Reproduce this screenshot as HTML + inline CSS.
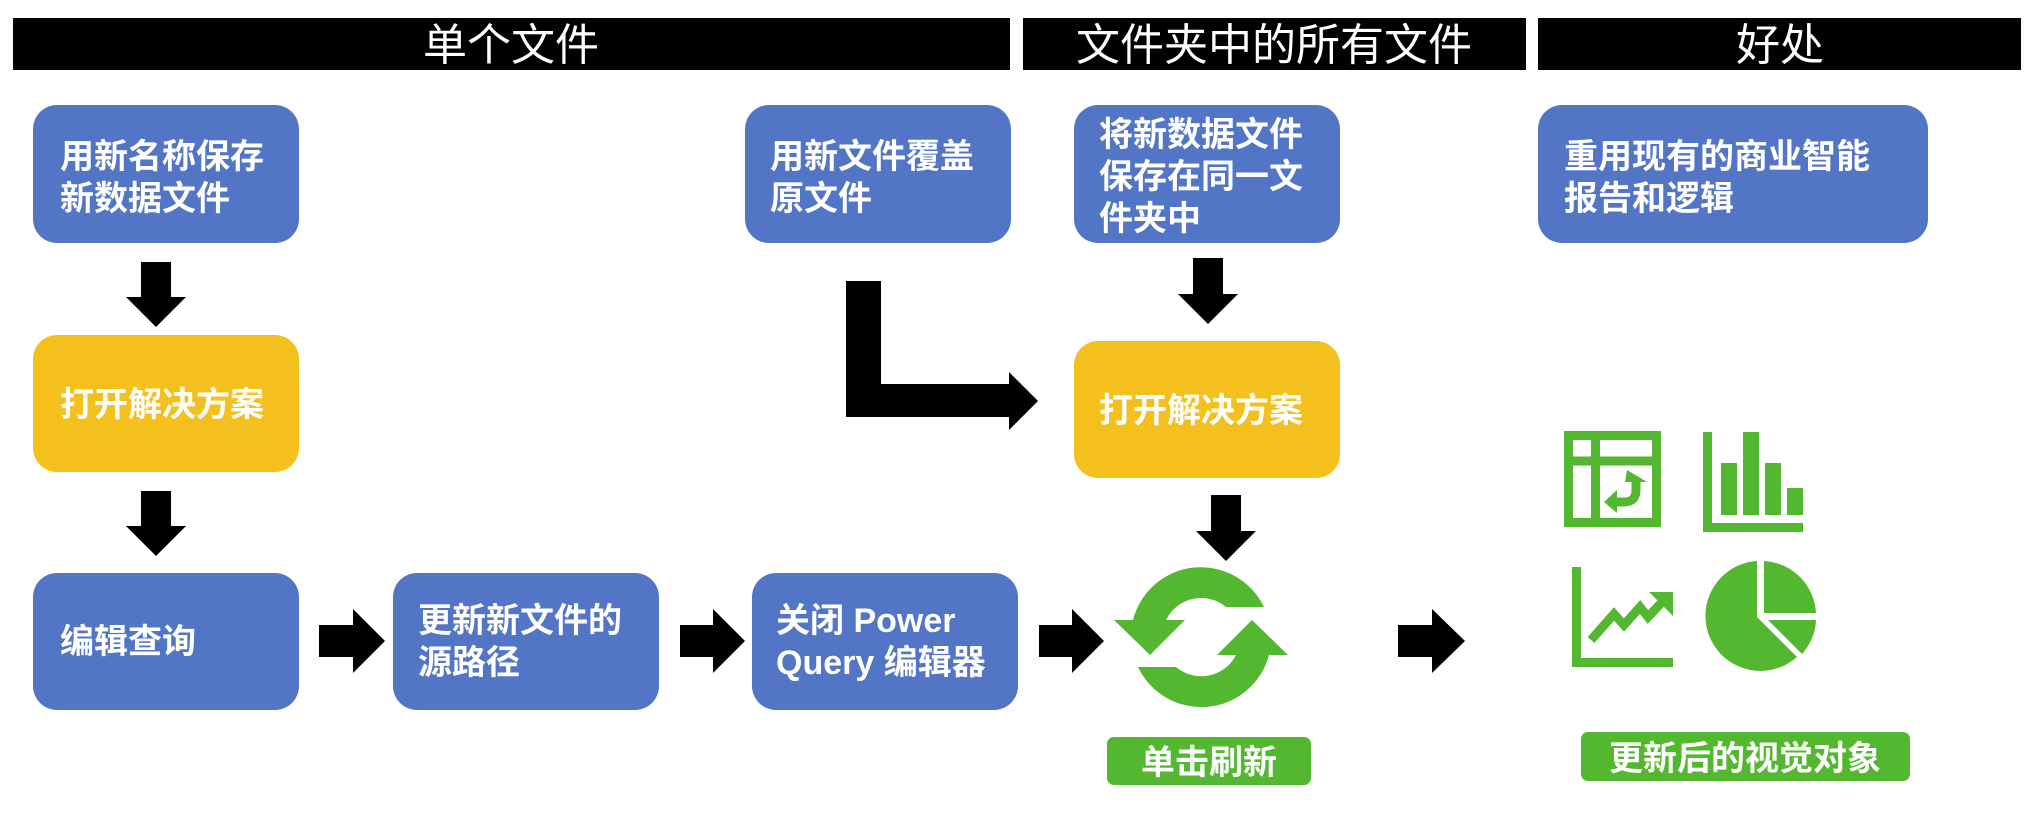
<!DOCTYPE html>
<html><head><meta charset="utf-8"><style>
html,body{margin:0;padding:0;background:#fff;}
svg{display:block}
.t{font-family:"Liberation Sans","Noto Sans CJK SC",sans-serif;font-weight:bold;font-size:34px;fill:#fff}
.h{font-family:"Liberation Sans","Noto Sans CJK SC",sans-serif;font-size:44px;fill:#fff}
</style></head><body>
<svg width="2031" height="814" viewBox="0 0 2031 814" xmlns="http://www.w3.org/2000/svg">
<rect x="13" y="18" width="997" height="52" fill="#000"/>
<rect x="1023" y="18" width="503" height="52" fill="#000"/>
<rect x="1538" y="18" width="483" height="52" fill="#000"/>
<text class="h" x="511" y="60" text-anchor="middle">单个文件</text>
<text class="h" x="1274" y="60" text-anchor="middle">文件夹中的所有文件</text>
<text class="h" x="1780" y="60" text-anchor="middle">好处</text>

<g fill="#5275c5">
<rect x="33" y="105" width="266" height="138" rx="24"/>
<rect x="33" y="573" width="266" height="137" rx="24"/>
<rect x="393" y="573" width="266" height="137" rx="24"/>
<rect x="752" y="573" width="266" height="137" rx="24"/>
<rect x="745" y="105" width="266" height="138" rx="24"/>
<rect x="1074" y="105" width="266" height="138" rx="24"/>
<rect x="1538" y="105" width="390" height="138" rx="24"/>
</g>
<g fill="#f4c01e">
<rect x="33" y="335" width="266" height="137" rx="24"/>
<rect x="1074" y="341" width="266" height="137" rx="24"/>
</g>
<g fill="#53b72f">
<rect x="1107" y="737" width="204" height="48" rx="7"/>
<rect x="1581" y="732" width="329" height="49" rx="7"/>
</g>

<text class="t" x="60" y="168">用新名称保存</text>
<text class="t" x="60" y="210">新数据文件</text>
<text class="t" x="60" y="416">打开解决方案</text>
<text class="t" x="60" y="653">编辑查询</text>
<text class="t" x="418" y="632">更新新文件的</text>
<text class="t" x="418" y="674">源路径</text>
<text class="t" x="776" y="632">关闭 Power</text>
<text class="t" x="776" y="674">Query 编辑器</text>
<text class="t" x="770" y="168">用新文件覆盖</text>
<text class="t" x="770" y="210">原文件</text>
<text class="t" x="1099" y="146">将新数据文件</text>
<text class="t" x="1099" y="188">保存在同一文</text>
<text class="t" x="1099" y="230">件夹中</text>
<text class="t" x="1099" y="422">打开解决方案</text>
<text class="t" x="1564" y="168">重用现有的商业智能</text>
<text class="t" x="1564" y="210">报告和逻辑</text>
<text class="t" x="1209" y="774" text-anchor="middle">单击刷新</text>
<text class="t" x="1745" y="770" text-anchor="middle">更新后的视觉对象</text>

<g fill="#000">
<polygon points="141,262 171,262 171,297 186,297 156,327 126,297 141,297"/>
<polygon points="141,491 171,491 171,526 186,526 156,556 126,526 141,526"/>
<polygon points="1193,258 1223,258 1223,294 1238,294 1208,324 1178,294 1193,294"/>
<polygon points="1211,495 1241,495 1241,531 1256,531 1226,561 1196,531 1211,531"/>
<polygon points="319,625 353,625 353,609 385,641 353,673 353,657 319,657"/>
<polygon points="680,625 713,625 713,609 745,641 713,673 713,657 680,657"/>
<polygon points="1039,625 1072,625 1072,609 1104,641 1072,673 1072,657 1039,657"/>
<polygon points="1398,625 1432,625 1432,609 1465,641 1432,673 1432,657 1398,657"/>
<polygon points="846,281 881,281 881,384 1009,384 1009,372 1038,401 1009,430 1009,417 846,417"/>
</g>

<g fill="#53b72f">
<path d="M1133,620 A70,70 0 0 1 1264,607 L1226,607 A39,39 0 0 0 1166,620 L1185,620 L1150,655 L1114,620 Z"/>
<path d="M1269,655 A70,70 0 0 1 1138,667 L1176,667 A39,39 0 0 0 1236,655 L1217,655 L1252,620 L1288,655 Z"/>
</g>

<g fill="none" stroke="#53b72f" stroke-width="9">
<rect x="1568.5" y="435.5" width="88" height="87"/>
<line x1="1568" y1="461" x2="1657" y2="461"/>
<line x1="1595.5" y1="435" x2="1595.5" y2="523"/>
<path d="M1636,480 L1636,490 Q1636,502 1624,502 L1612,502"/>
</g>
<g fill="#53b72f">
<polygon points="1627,470 1647,482 1625,482"/>
<polygon points="1604,502 1617,490 1617,513"/>
<rect x="1703" y="432" width="9" height="100"/>
<rect x="1703" y="523" width="100" height="9"/>
<rect x="1721" y="463" width="16" height="52"/>
<rect x="1743" y="432" width="16" height="83"/>
<rect x="1765" y="463" width="16" height="52"/>
<rect x="1787" y="488" width="16" height="27"/>
<rect x="1572" y="567" width="9" height="100"/>
<rect x="1572" y="658" width="101" height="9"/>
<polygon points="1649,592 1673,592 1673,616"/>
</g>
<polyline points="1591,640 1614,614 1624,625 1640,607 1648,617 1664,600" fill="none" stroke="#53b72f" stroke-width="9"/>
<g fill="#53b72f">
<path d="M1757,561 L1757,617 L1797,657 A55,55 0 1 1 1757,561 Z"/>
<path d="M1764,561 A55,55 0 0 1 1816,613 L1764,613 Z"/>
<path d="M1768,620 L1816,620 A55,55 0 0 1 1802,654 Z"/>
</g>
</svg>
</body></html>
